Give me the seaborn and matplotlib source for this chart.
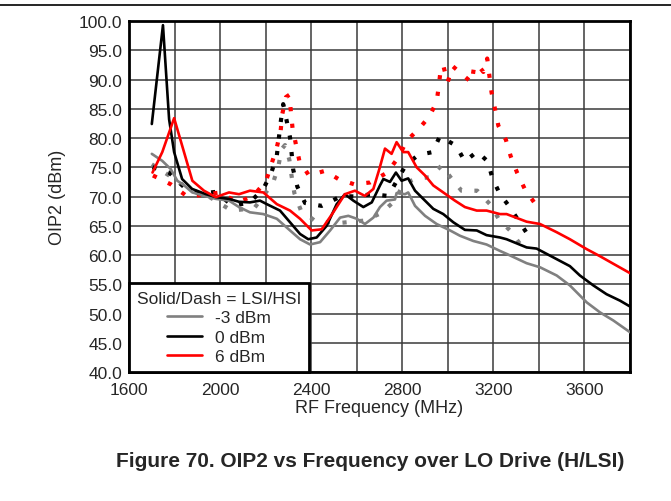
import matplotlib.pyplot as plt
import numpy as np
import pandas as pd
import seaborn as sns
from matplotlib.lines import Line2D
from matplotlib.ticker import MultipleLocator, FormatStrFormatter

sns.set_style("white")
plt.rcParams["font.family"] = ["Liberation Sans", "DejaVu Sans"]

# LSI (solid) curves
freq_m3_lsi = [1700, 1746, 1783, 1812, 1842, 1878, 1951, 1981, 2039, 2083, 2131, 2190, 2249, 2307,
               2351, 2395, 2439, 2483, 2527, 2563, 2600, 2636, 2673, 2702, 2731, 2768, 2775, 2812,
               2826, 2856, 2900, 2951, 3010, 3053, 3112, 3170, 3229, 3258, 3346, 3405, 3478, 3536,
               3610, 3668, 3727, 3800]
oip2_m3_lsi = [77.3, 76.1, 74.7, 72.7, 71.9, 70.7, 69.9, 69.6, 69.3, 68.2, 67.3, 67.0, 66.2, 64.2,
               62.7, 61.8, 62.2, 64.2, 66.4, 66.7, 66.2, 65.3, 66.4, 68.2, 69.3, 69.5, 70.6, 70.4,
               70.7, 68.4, 66.7, 65.3, 64.2, 63.3, 62.4, 61.8, 60.7, 60.2, 58.6, 57.9, 56.5, 54.8,
               51.9, 50.2, 48.8, 46.8]

freq_0_lsi = [1700, 1749, 1776, 1798, 1833, 1877, 1938, 1982, 2039, 2083, 2131, 2175, 2205, 2263,
              2307, 2351, 2387, 2424, 2468, 2512, 2548, 2585, 2629, 2666, 2702, 2717, 2746, 2772,
              2797, 2826, 2856, 2892, 2936, 2980, 3024, 3075, 3127, 3170, 3229, 3258, 3346, 3390,
              3463, 3536, 3580, 3639, 3697, 3756, 3800]
oip2_0_lsi = [82.4, 99.3, 83.2, 77.6, 73.0, 71.3, 70.4, 69.9, 69.6, 69.1, 69.0, 69.3, 68.7, 67.6,
              65.6, 63.6, 62.7, 63.0, 65.0, 68.7, 70.4, 69.3, 68.2, 69.0, 71.9, 73.0, 72.5, 74.1,
              72.7, 73.1, 71.0, 69.6, 67.9, 67.0, 65.6, 64.3, 64.2, 63.4, 63.0, 62.7, 61.3, 61.1,
              59.6, 58.1, 56.5, 54.8, 53.3, 52.2, 51.2]

freq_6_lsi = [1703, 1746, 1798, 1831, 1878, 1929, 1981, 2039, 2083, 2131, 2190, 2249, 2307, 2351,
              2402, 2446, 2497, 2548, 2592, 2636, 2673, 2700, 2724, 2753, 2775, 2804, 2826, 2863,
              2900, 2936, 2980, 3031, 3075, 3127, 3170, 3229, 3258, 3346, 3405, 3478, 3536, 3610,
              3668, 3727, 3800]
oip2_6_lsi = [74.1, 77.6, 83.4, 79.0, 72.7, 71.0, 69.9, 70.7, 70.4, 71.0, 70.7, 68.7, 67.6, 66.2,
              64.2, 64.4, 67.3, 70.4, 71.0, 70.1, 71.3, 74.8, 78.2, 77.3, 79.3, 77.6, 77.6, 75.0,
              73.6, 71.9, 70.7, 69.3, 68.2, 67.6, 67.6, 67.0, 67.0, 65.7, 65.3, 63.9, 62.7, 61.0,
              59.8, 58.5, 56.9]

# HSI (dotted) curves
freq_m3_hsi = [1700, 1780, 1850, 1950, 2050, 2150, 2233, 2256, 2270, 2285, 2304, 2314, 2326, 2354,
               2421, 2530, 2636, 2709, 2768, 2804, 2856, 2919, 2973, 3012, 3060, 3129, 3185, 3226,
               3273, 3334]
oip2_m3_hsi = [75.5, 73.5, 71.5, 70.0, 67.6, 68.0, 72.4, 75.2, 78.1, 78.8, 76.3, 73.5, 70.6, 67.7,
               65.7, 65.5, 65.9, 67.2, 69.3, 72.1, 73.0, 73.3, 75.3, 73.3, 71.0, 71.0, 68.7, 66.0,
               64.2, 61.0]

freq_0_hsi = [1703, 1776, 1842, 1910, 1983, 2054, 2130, 2190, 2226, 2249, 2266, 2277, 2292, 2307,
              2314, 2321, 2339, 2373, 2446, 2534, 2592, 2666, 2738, 2816, 2870, 2933, 2965, 2987,
              3036, 3075, 3129, 3175, 3197, 3229, 3270, 3317, 3368]
oip2_0_hsi = [75.0, 74.1, 71.6, 70.5, 70.8, 68.4, 69.0, 71.3, 74.2, 77.0, 82.7, 85.8, 83.0, 80.1,
              77.4, 74.6, 71.7, 68.9, 68.4, 70.1, 70.0, 70.4, 70.1, 75.4, 77.1, 77.6, 80.3, 79.8,
              78.7, 76.0, 77.7, 76.0, 73.0, 70.4, 68.3, 65.5, 62.5]

freq_6_hsi = [1705, 1783, 1856, 1930, 2002, 2075, 2146, 2202, 2226, 2249, 2266, 2273, 2289, 2304,
              2311, 2318, 2348, 2390, 2461, 2519, 2588, 2658, 2734, 2783, 2819, 2878, 2919, 2951,
              2961, 2969, 2980, 2999, 3021, 3065, 3105, 3116, 3134, 3156, 3173, 3182, 3192, 3207,
              3222, 3255, 3276, 3305, 3339, 3390]
oip2_6_hsi = [73.6, 72.1, 70.0, 70.3, 70.7, 69.0, 70.1, 72.7, 75.6, 78.4, 81.3, 84.1, 87.0, 87.4,
              84.4, 81.7, 76.1, 73.6, 74.4, 73.0, 72.1, 72.4, 74.1, 76.7, 79.5, 81.8, 83.7, 86.2,
              89.1, 91.9, 92.4, 89.5, 92.3, 90.8, 89.5, 92.4, 92.4, 91.3, 93.6, 90.8, 87.8, 85.0,
              82.1, 79.7, 76.9, 74.0, 71.2, 68.4]

labels = ["-3 dBm", "0 dBm", "6 dBm"]
colors = ["#808080", "#000000", "#ff0000"]

fig = plt.figure(figsize=(6.71, 5.02), dpi=100)
ax = fig.add_axes([0.1923, 0.257, 0.7466, 0.699])

lsi = [(freq_m3_lsi, oip2_m3_lsi), (freq_0_lsi, oip2_0_lsi), (freq_6_lsi, oip2_6_lsi)]
hsi = [(freq_m3_hsi, oip2_m3_hsi), (freq_0_hsi, oip2_0_hsi), (freq_6_hsi, oip2_6_hsi)]

for (f, v), col in zip(hsi, colors):
    sns.lineplot(x=f, y=v, ax=ax, color=col, linewidth=3.0, linestyle=(0, (1, 3)),
                 sort=False, estimator=None, zorder=3)
for (f, v), col, lab in zip(lsi, colors, labels):
    sns.lineplot(x=f, y=v, ax=ax, color=col, linewidth=1.9, label=lab,
                 sort=False, estimator=None, zorder=4)

ax.set_xlim(1600, 3800)
ax.set_ylim(40, 100)
ax.xaxis.set_major_locator(MultipleLocator(400))
ax.xaxis.set_minor_locator(MultipleLocator(200))
ax.yaxis.set_major_locator(MultipleLocator(5))
ax.yaxis.set_major_formatter(FormatStrFormatter("%.1f"))
ax.grid(True, which="both", color="#3a3a3a", linewidth=1.1)
ax.tick_params(which="both", length=0, labelsize=12.5)
ax.tick_params(axis="x", pad=7.5)
ax.tick_params(axis="y", pad=5)
for sp in ax.spines.values():
    sp.set_visible(True)
    sp.set_color("black")
    sp.set_linewidth(2.0)

ax.set_xlabel("RF Frequency (MHz)", fontsize=13, labelpad=1)
ax.set_ylabel("OIP2 (dBm)", fontsize=13, labelpad=9)

leg = ax.legend(title="Solid/Dash = LSI/HSI", loc="lower left", borderaxespad=0,
                fontsize=12.5, title_fontsize=12.5, frameon=True, fancybox=False,
                handlelength=2.0, labelspacing=0.25, borderpad=0.45, handletextpad=0.8)
leg.get_frame().set_edgecolor("black")
leg.get_frame().set_linewidth(2.0)
leg.get_frame().set_alpha(1)
leg.set_zorder(10)

fig.add_artist(Line2D([0, 1], [0.988, 0.988], transform=fig.transFigure, color="black", lw=1.2))
fig.text(0.552, 0.08, "Figure 70. OIP2 vs Frequency over LO Drive (H/LSI)", ha="center",
         va="center", fontsize=15, fontweight="bold")

fig.savefig("out.png", dpi=100)
